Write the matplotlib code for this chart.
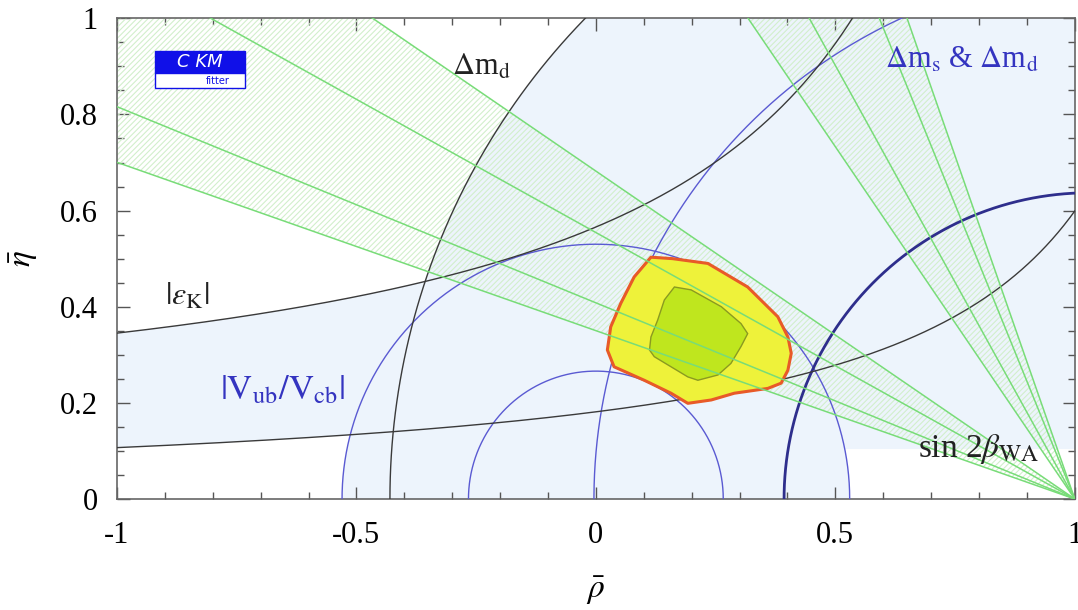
import numpy as np
import matplotlib.pyplot as plt
from matplotlib.patches import Wedge, Polygon, Rectangle

# --- constraint parameters ---
vub_radii = [0.266, 0.530]                       # |Vub/Vcb| circles around (0, 0)
dmd_center, dmd_radius = (1.0, 0.0), 1.43        # Delta m_d circle (black)
dms_center, dms_radius = (1.03, 0.0), 0.637      # Delta m_s & Delta m_d (thick blue)
dms2_center, dms2_radius = (1.096, 0.0), 1.10    # second Delta m_s & Delta m_d circle
dmd_inner = 0.63                                  # inner edge of the Delta m_d band
dms_floor = 0.105                                 # lower edge of shading right of the Vub band
# |eps_K| hyperbolas: eta = c + k / (a - rho)
epsk_lo = dict(k=0.26, a=1.434, c=0.0)
epsk_hi = dict(k=0.517, a=1.11, c=0.10)
# sin 2beta lines (angle beta in degrees, apex at (1, 0))
beta_lines = [19.3, 22.2, 29.0, 34.3]

# --- global fit contours ---
outer_rho = [0.115, 0.16, 0.234, 0.317, 0.380, 0.401, 0.408, 0.401, 0.387, 0.359,
             0.289, 0.241, 0.192, 0.157, 0.101, 0.038, 0.024, 0.031, 0.052, 0.080]
outer_eta = [0.503, 0.500, 0.490, 0.441, 0.379, 0.337, 0.303, 0.268, 0.241, 0.230,
             0.220, 0.206, 0.199, 0.220, 0.247, 0.275, 0.310, 0.358, 0.407, 0.462]
inner_rho = [0.164, 0.199, 0.262, 0.303, 0.317, 0.303, 0.282, 0.255, 0.213, 0.192,
             0.157, 0.122, 0.112, 0.115, 0.129, 0.143]
inner_eta = [0.441, 0.435, 0.400, 0.365, 0.344, 0.317, 0.282, 0.258, 0.247, 0.254,
             0.275, 0.296, 0.310, 0.337, 0.372, 0.414]

xticks = [-1, -0.5, 0, 0.5, 1]
xticklabels = ['-1', '-0.5', '0', '0.5', '1']
yticks = [0, 0.2, 0.4, 0.6, 0.8, 1]
yticklabels = ['0', '0.2', '0.4', '0.6', '0.8', '1']

LIGHT = '#edf4fc'
BLACK = '#3a3a3a'
BLUE = '#5a5ad2'
DBLUE = '#2e2e8c'
GREEN = '#78dc78'
HATCH = '#d2efcc'
TBLUE = '#3434c0'

plt.rcParams['font.family'] = ['Liberation Serif', 'DejaVu Serif']
plt.rcParams['mathtext.fontset'] = 'stix'
plt.rcParams['hatch.linewidth'] = 0.8

fig = plt.figure(figsize=(10.78, 6.10), dpi=100)
ax = fig.add_axes([0.1085, 0.182, 0.8885, 0.788])
ax.set_xlim(-1, 1)
ax.set_ylim(0, 1)

rho = np.linspace(-1, 1, 800)


def hyper(p, r):
    return p['c'] + p['k'] / (p['a'] - r)


# light blue allowed regions
lo = hyper(epsk_lo, rho)
hi = np.clip(hyper(epsk_hi, np.minimum(rho, 1.09)), 0, 5)
ax.fill_between(rho, lo, hi, color=LIGHT, lw=0, zorder=1)
right = rho >= 0.38
ax.fill_between(rho[right], dms_floor, lo[right], color=LIGHT, lw=0, zorder=1)
ax.add_patch(Wedge((0, 0), vub_radii[1], 0, 180, width=vub_radii[1] - vub_radii[0],
                   color=LIGHT, lw=0, zorder=1))
ax.add_patch(Wedge(dmd_center, dmd_radius, 0, 180, width=dmd_radius - dmd_inner,
                   color=LIGHT, lw=0, zorder=1))

# sin 2beta hatched wedges
for b1, b2 in [(beta_lines[0], beta_lines[-1]),
               (90 - beta_lines[-1], 90 - beta_lines[0])]:
    ax.add_patch(Wedge((1, 0), 3.0, 180 - b2, 180 - b1, fill=False, hatch='//////',
                       edgecolor=HATCH, lw=0, zorder=2))

# constraint curves
th = np.linspace(0, np.pi, 600)
for r in vub_radii:
    ax.plot(r * np.cos(th), r * np.sin(th), color=BLUE, lw=1.0, zorder=3)
ax.plot(dmd_center[0] + dmd_radius * np.cos(th), dmd_radius * np.sin(th),
        color=BLACK, lw=1.0, zorder=3)
ax.plot(dms2_center[0] + dms2_radius * np.cos(th), dms2_radius * np.sin(th),
        color=BLUE, lw=1.0, zorder=3)
ax.plot(dms_center[0] + dms_radius * np.cos(th), dms_radius * np.sin(th),
        color=DBLUE, lw=2.0, zorder=3)
ax.plot(rho, lo, color=BLACK, lw=1.0, zorder=3)
rr = rho[rho < 1.09]
ax.plot(rr, hyper(epsk_hi, rr), color=BLACK, lw=1.0, zorder=3)

# fit contours
ax.add_patch(Polygon(np.column_stack([outer_rho, outer_eta]), closed=True,
                     facecolor='#eef23a', edgecolor='#8a9a20', lw=1.0, zorder=4))
ax.add_patch(Polygon(np.column_stack([outer_rho, outer_eta]), closed=True,
                     fill=False, edgecolor='#e85a28', lw=2.2, zorder=4,
                     joinstyle='round'))
ax.add_patch(Polygon(np.column_stack([inner_rho, inner_eta]), closed=True,
                     facecolor='#bfe61e', edgecolor='#8a9a20', lw=1.0, zorder=4))

# sin 2beta lines on top
for b in beta_lines:
    for ang in (b, 90 - b):
        t = np.tan(np.radians(ang))
        ax.plot([1, 1 - 3], [0, 3 * t], color=GREEN, lw=1.1, zorder=5)

# labels
ax.text(-0.24, 0.898, r'$\Delta$m$_\mathrm{d}$', fontsize=22, color='#222222',
        ha='center', va='center', zorder=6)
ax.text(0.765, 0.912, r'$\Delta$m$_\mathrm{s}$ & $\Delta$m$_\mathrm{d}$', fontsize=22,
        color=TBLUE, ha='center', va='center', zorder=6)
ax.text(-0.853, 0.42, r'$|\varepsilon_\mathrm{K}|$', fontsize=23, color='#222222',
        ha='center', va='center', zorder=6)
ax.text(-0.655, 0.225, r'$|\mathrm{V}_\mathrm{ub}/\mathrm{V}_\mathrm{cb}|$', fontsize=25,
        color=TBLUE, ha='center', va='center', zorder=6)
ax.text(0.80, 0.105, r'sin 2$\beta_\mathrm{WA}$', fontsize=24, color='#222222',
        ha='center', va='center', zorder=6)

# CKMfitter logo
ax.add_patch(Rectangle((-0.92, 0.886), 0.188, 0.047, facecolor='#1010e8',
                       edgecolor='#1010e8', lw=1, zorder=6))
ax.add_patch(Rectangle((-0.92, 0.854), 0.188, 0.032, facecolor='white',
                       edgecolor='#1010e8', lw=1, zorder=6))
ax.text(-0.826, 0.909, 'C KM', fontsize=13, color='white', style='italic',
        ha='center', va='center', zorder=7, family='DejaVu Sans')
ax.text(-0.79, 0.869, 'fitter', fontsize=7, color='#1010e8',
        ha='center', va='center', zorder=7, family='DejaVu Sans')

# axes style
ax.set_xticks(xticks)
ax.set_xticklabels(xticklabels)
ax.set_yticks(yticks)
ax.set_yticklabels(yticklabels)
ax.set_xticks(np.arange(-1, 1.001, 0.1), minor=True)
ax.set_yticks(np.arange(0, 1.001, 0.05), minor=True)
ax.tick_params(which='both', direction='in', top=True, right=True, color='#555555',
               labelsize=22, width=1.0)
ax.tick_params(which='major', length=9)
ax.tick_params(axis='x', which='major', pad=16)
ax.tick_params(axis='y', which='major', pad=14)
ax.tick_params(which='minor', length=5)
for s in ax.spines.values():
    s.set_color('#666666')
    s.set_linewidth(1.2)

ax.set_xlabel(r'$\bar{\rho}$', fontsize=24, labelpad=18)
ax.set_ylabel(r'$\bar{\eta}$', fontsize=24, labelpad=14)

fig.savefig('out.png', dpi=100)
